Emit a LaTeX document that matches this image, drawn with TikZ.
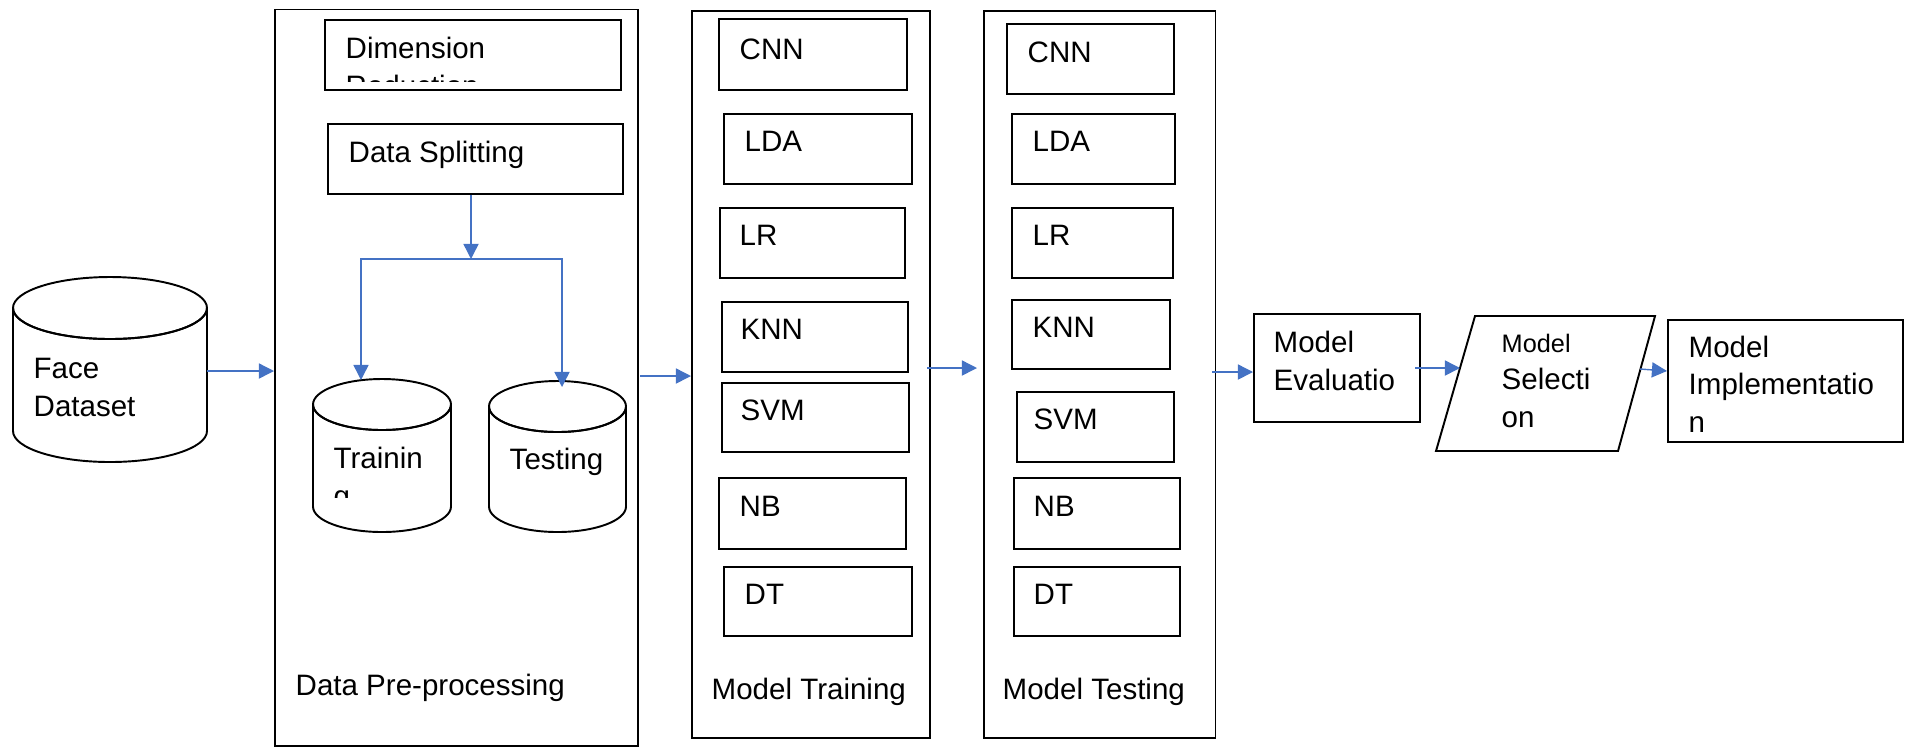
\documentclass[tikz,border=0pt]{standalone}
\usepackage{fontspec}
\setmainfont{Liberation Sans}
\usetikzlibrary{arrows.meta}
\definecolor{arrblue}{HTML}{4472C4}
\tikzset{
 box/.style={draw=black, line width=0.55pt, inner sep=0, anchor=north west},
 lbl/.style={inner sep=0, anchor=base west, font=\fontsize{8.4}{10.6}\selectfont, align=left},
 arr/.style={draw=arrblue, line width=0.4pt, -{Triangle[length=4.3pt,width=4.3pt]}},
 cyl/.style={draw=black, line width=0.55pt, fill=white},
}
\begin{document}
\begin{tikzpicture}
\useasboundingbox (0,0) rectangle (19.12,-7.47);
% ---------- Face dataset cylinder
\draw[cyl] (0.13,-3.08) -- (0.13,-4.31) arc[start angle=180,end angle=360,x radius=0.97cm,y radius=0.31cm] -- (2.07,-3.08) arc[start angle=0,end angle=360,x radius=0.97cm,y radius=0.31cm];
\draw[cyl,fill=none] (0.13,-3.08) arc[start angle=180,end angle=360,x radius=0.97cm,y radius=0.31cm];
% (anchor base = baseline of the last line)
\node[lbl] (face) at (0.33,-4.16) {Face\\Dataset};
% ---------- Data pre-processing
\node[box, minimum width=3.63cm, minimum height=7.365cm] (pre) at (2.74,-0.085) {};
\node[box, minimum width=2.96cm, minimum height=0.70cm] (dim) at (3.24,-0.19) {};
\begin{scope}
\clip (3.26,-0.21) rectangle (6.18,-0.81);
\node[lbl] (dimt) at (3.45,-0.96) {Dimension\\Reduction};
\end{scope}
\node[box, minimum width=2.95cm, minimum height=0.70cm] (split) at (3.27,-1.23) {};
\node[lbl] (splitt) at (3.48,-1.62) {Data Splitting};
% training cylinder
\draw[cyl] (3.13,-4.045) -- (3.13,-5.065) arc[start angle=180,end angle=360,x radius=0.69cm,y radius=0.255cm] -- (4.51,-4.045) arc[start angle=0,end angle=360,x radius=0.69cm,y radius=0.255cm];
\draw[cyl,fill=none] (3.13,-4.045) arc[start angle=180,end angle=360,x radius=0.69cm,y radius=0.255cm];
\begin{scope}
\clip (3.15,-4.30) rectangle (4.49,-4.97);
\node[lbl] (traint) at (3.33,-5.06) {Trainin\\g};
\end{scope}
% testing cylinder
\draw[cyl] (4.89,-4.065) -- (4.89,-5.065) arc[start angle=180,end angle=360,x radius=0.685cm,y radius=0.255cm] -- (6.26,-4.065) arc[start angle=0,end angle=360,x radius=0.685cm,y radius=0.255cm];
\draw[cyl,fill=none] (4.89,-4.065) arc[start angle=180,end angle=360,x radius=0.685cm,y radius=0.255cm];
\node[lbl] (testt) at (5.09,-4.69) {Testing};
\node[lbl] (pret) at (2.95,-6.95) {Data Pre-processing};
% split arrows
\coordinate (j) at (4.71,-2.59);
\coordinate (traintop) at (3.61,-3.80);
\coordinate (testtop) at (5.62,-3.87);
\draw[arr] (split.south -| j) -- (j);
\draw[arr] (j) -| (traintop);
\draw[arr] (j) -| (testtop);
% ---------- Model training
\node[box, minimum width=2.38cm, minimum height=7.27cm] (train) at (6.91,-0.10) {};
\node[box, minimum width=1.88cm, minimum height=0.71cm] (tcnn) at (7.18,-0.18) {};
\node[box, minimum width=1.88cm, minimum height=0.70cm] (tlda) at (7.23,-1.13) {};
\node[box, minimum width=1.85cm, minimum height=0.70cm] (tlr) at (7.19,-2.07) {};
\node[box, minimum width=1.86cm, minimum height=0.70cm] (tknn) at (7.21,-3.01) {};
\node[box, minimum width=1.87cm, minimum height=0.69cm] (tsvm) at (7.21,-3.82) {};
\node[box, minimum width=1.87cm, minimum height=0.71cm] (tnb) at (7.18,-4.77) {};
\node[box, minimum width=1.88cm, minimum height=0.69cm] (tdt) at (7.23,-5.66) {};
\node[lbl] (tcnnt) at (7.39,-0.59) {CNN};
\node[lbl] (tldat) at (7.44,-1.51) {LDA};
\node[lbl] (tlrt) at (7.39,-2.45) {LR};
\node[lbl] (tknnt) at (7.40,-3.39) {KNN};
\node[lbl] (tsvmt) at (7.40,-4.20) {SVM};
\node[lbl] (tnbt) at (7.39,-5.16) {NB};
\node[lbl] (tdtt) at (7.44,-6.04) {DT};
\node[lbl] (traintt) at (7.11,-6.99) {Model Training};
% ---------- Model testing
\node[box, minimum width=2.315cm, minimum height=7.27cm] (test) at (9.83,-0.10) {};
\node[box, minimum width=1.67cm, minimum height=0.70cm] (scnn) at (10.06,-0.23) {};
\node[box, minimum width=1.63cm, minimum height=0.70cm] (slda) at (10.11,-1.13) {};
\node[box, minimum width=1.61cm, minimum height=0.70cm] (slr) at (10.11,-2.07) {};
\node[box, minimum width=1.58cm, minimum height=0.69cm] (sknn) at (10.11,-2.99) {};
\node[box, minimum width=1.57cm, minimum height=0.70cm] (ssvm) at (10.16,-3.91) {};
\node[box, minimum width=1.66cm, minimum height=0.71cm] (snb) at (10.13,-4.77) {};
\node[box, minimum width=1.66cm, minimum height=0.69cm] (sdt) at (10.13,-5.66) {};
\node[lbl] (scnnt) at (10.27,-0.62) {CNN};
\node[lbl] (sldat) at (10.32,-1.51) {LDA};
\node[lbl] (slrt) at (10.32,-2.45) {LR};
\node[lbl] (sknnt) at (10.32,-3.37) {KNN};
\node[lbl] (ssvmt) at (10.33,-4.29) {SVM};
\node[lbl] (snbt) at (10.33,-5.16) {NB};
\node[lbl] (sdtt) at (10.33,-6.04) {DT};
\node[lbl] (testtt) at (10.02,-6.99) {Model Testing};
% ---------- Evaluation, selection, implementation
\node[box, minimum width=1.66cm, minimum height=1.08cm] (eval) at (12.53,-3.13) {};
\node[lbl] (evalt) at (12.73,-3.90) {Model\\Evaluatio};
\coordinate (selTL) at (14.75,-3.16);
\coordinate (selTR) at (16.55,-3.16);
\coordinate (selBR) at (16.18,-4.51);
\coordinate (selBL) at (14.36,-4.51);
\draw[black, line width=0.55pt] (selTL) -- (selTR) -- (selBR) -- (selBL) -- cycle;
\coordinate (selW) at (14.60,-3.68);
\coordinate (selE) at (16.40,-3.69);
\node[lbl] (selt) at (15.01,-4.27) {{\fontsize{7.2}{9}\selectfont Model}\\Selecti\\on};
\node[box, minimum width=2.35cm, minimum height=1.22cm] (impl) at (16.67,-3.19) {};
\node[lbl] (implt) at (16.88,-4.32) {Model\\Implementatio\\n};
% ---------- main flow arrows
\coordinate (faceE) at (2.07,-3.71);
\draw[arr] (faceE) -- (faceE -| pre.west);
\coordinate (preE) at (6.40,-3.76);
\draw[arr] (preE) -- (preE -| train.west);
\coordinate (trainE) at (9.27,-3.68);
\draw[arr] (trainE) -- (9.77,-3.68);
\coordinate (testE) at (12.12,-3.72);
\draw[arr] (testE) -- (testE -| eval.west);
\coordinate (evalE) at (14.15,-3.68);
\draw[arr] (evalE) -- (selW);
\draw[arr] (selE) -- (impl.west |- 0,-3.71);
\end{tikzpicture}
\end{document}
